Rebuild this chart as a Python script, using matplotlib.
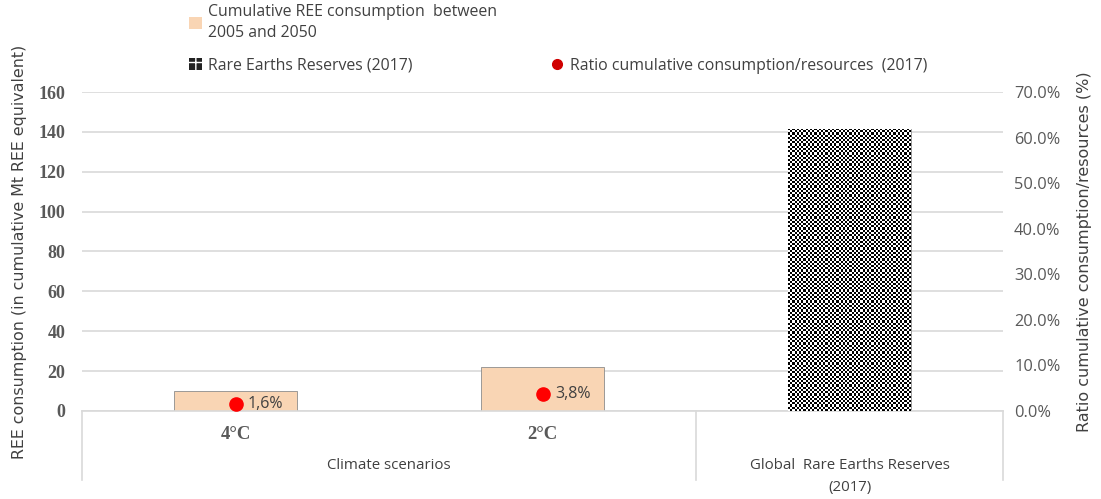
import numpy as np
import matplotlib
matplotlib.use('Agg')
import matplotlib.pyplot as plt
from matplotlib.patches import Patch
from matplotlib.lines import Line2D
from matplotlib.ticker import FuncFormatter

# data
scenarios = ['4°C', '2°C']
consumption = [10, 22]          # Mt REE, cumulative 2005-2050
reserves = 141.5                # Mt REE, 2017
ratio_pct = [1.6, 3.8]          # % of reserves
ratio_labels = ['1,6%', '3,8%']
left_ticks = [0, 20, 40, 60, 80, 100, 120, 140, 160]
right_ticks = [0, 10, 20, 30, 40, 50, 60, 70]

peach = '#F9D5B4'
grid_c = '#D9D9D9'
tick_c = '#595959'
text_c = '#404040'
sans = 'Open Sans'
serif = 'Liberation Serif'

fig = plt.figure(figsize=(11.01, 4.99), dpi=100)
ax = fig.add_axes([0.0745, 0.1764, 0.8365, 0.6392])
ax2 = ax.twinx()

xs = np.arange(len(scenarios))
ax.bar(xs, consumption, width=0.4, color=peach, edgecolor='#8c8c8c',
       linewidth=0.6, zorder=2)
res_bar = ax.bar([2], [reserves], width=0.4, color='white',
                 edgecolor='#8c8c8c', linewidth=0.6, zorder=2)[0]

# checkerboard fill, clipped to the reserves bar
ny, nx = 128, 56
checker = (np.indices((ny, nx)).sum(axis=0) % 2).astype(float)
x0 = res_bar.get_x()
im = ax.imshow(checker, cmap='gray', interpolation='nearest', aspect='auto',
               extent=(x0, x0 + res_bar.get_width(), 0, res_bar.get_height()),
               zorder=3)
im.set_clip_path(res_bar)

ax.set_xlim(-0.5, 2.5)
ax.set_ylim(0, 160)
ax.set_yticks(left_ticks)
ax.yaxis.grid(True, color=grid_c, linewidth=1.2, zorder=0)
ax.set_axisbelow(True)
for s in ['left', 'right', 'top']:
    ax.spines[s].set_visible(False)
ax.spines['bottom'].set_color(grid_c)
ax.spines['bottom'].set_linewidth(1.2)
ax.tick_params(axis='y', length=0, pad=12, labelcolor=tick_c)
for lab in ax.get_yticklabels():
    lab.set_fontfamily(serif)
    lab.set_fontsize(13)
    lab.set_fontweight('bold')

ax.set_xticks([0, 1, 2])
ax.set_xticklabels(scenarios + [''], fontfamily=serif, fontsize=13.5,
                   fontweight='bold', color=tick_c)
ax.tick_params(axis='x', length=0, pad=11)

# category group separators and labels
tr = ax.get_xaxis_transform()
for xv in [-0.5, 1.5, 2.5]:
    ax.add_line(Line2D([xv, xv], [0, -0.216], transform=tr, color=grid_c,
                       linewidth=1.2, clip_on=False))
ax.text(0.5, -0.172, 'Climate scenarios', transform=tr, ha='center',
        va='center', fontfamily=sans, fontsize=10.8, color=text_c)
ax.text(2, -0.205, 'Global  Rare Earths Reserves\n(2017)', transform=tr,
        ha='center', va='center', fontfamily=sans, fontsize=10.8,
        color=text_c, linespacing=1.7)

ax.set_ylabel('REE consumption (in cumulative Mt REE equivalent)',
              fontfamily='DejaVu Sans', fontsize=11.4, color=text_c,
              labelpad=8)

# ratio on right axis
ax2.set_ylim(0, 70)
ax2.set_yticks(right_ticks)
ax2.yaxis.set_major_formatter(FuncFormatter(lambda v, p: f'{v:.1f}%'))
ax2.tick_params(axis='y', length=0, pad=8, labelcolor=tick_c)
for lab in ax2.get_yticklabels():
    lab.set_fontfamily(sans)
    lab.set_fontsize(11.8)
for s in ax2.spines.values():
    s.set_visible(False)
ax2.plot(xs, ratio_pct, 'o', color='red', markersize=9.5, linestyle='none',
         zorder=4)
for xv, yv, t in zip(xs, ratio_pct, ratio_labels):
    ax2.annotate(t, (xv, yv), xytext=(9, 0), textcoords='offset points',
                 va='center', ha='left', fontfamily=sans, fontsize=11.5,
                 color=text_c)
ax2.set_ylabel('Ratio cumulative consumption/resources (%)',
               fontfamily='DejaVu Sans', fontsize=11.5, color=text_c,
               labelpad=12)

# legend, three pieces as in the reference
leg_kw = dict(frameon=False, handlelength=0.8, handleheight=0.8,
              handletextpad=0.4, borderpad=0, borderaxespad=0,
              prop={'family': sans, 'size': 11.4}, labelcolor=text_c)
leg1 = fig.legend([Patch(facecolor=peach)],
                  ['Cumulative REE consumption  between\n2005 and 2050'],
                  loc='upper left', bbox_to_anchor=(0.172, 0.992), **leg_kw)
leg1.get_texts()[0].set_linespacing(1.45)
fig.legend([Patch(facecolor='#222222', edgecolor='white', hatch='++',
                  linewidth=0)],
           ['Rare Earths Reserves (2017)'],
           loc='upper left', bbox_to_anchor=(0.172, 0.884), **leg_kw)
fig.legend([Line2D([], [], marker='o', color='#d00000', linestyle='none',
                   markersize=7)],
           ['Ratio cumulative consumption/resources  (2017)'],
           loc='upper left', bbox_to_anchor=(0.500, 0.884), **leg_kw)

fig.savefig('out.png', dpi=100)
